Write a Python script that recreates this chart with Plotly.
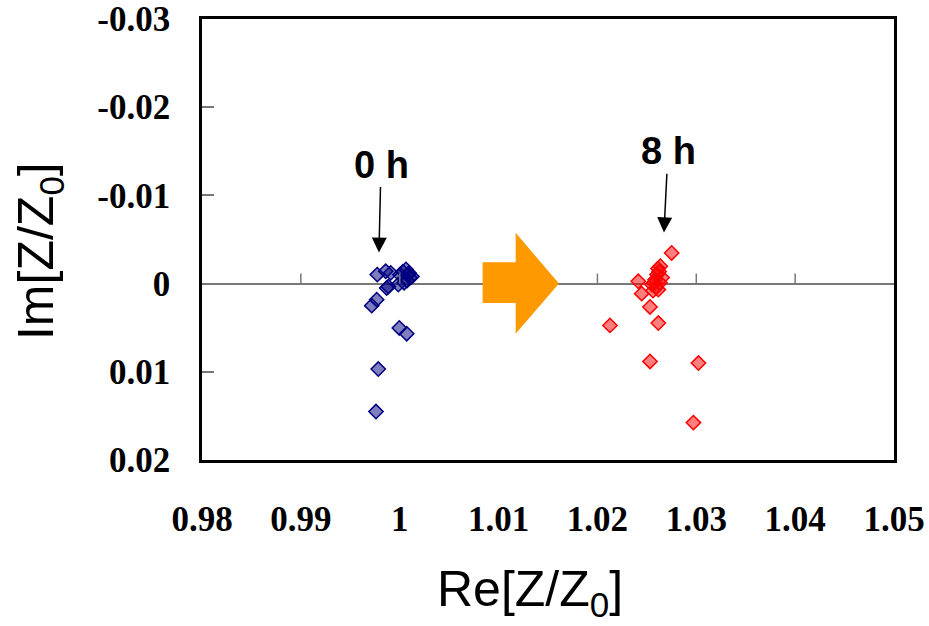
import plotly.graph_objects as go

# ---- data ----
blue_x = [0.99773, 0.99858, 0.99909, 0.99885, 0.99868, 0.99986, 0.99767, 0.99717,
          0.99996, 1.00071, 0.99783, 0.99760,
          1.00003, 1.00033, 1.00064, 1.00084, 1.00104, 1.00124, 1.00074, 1.00044, 1.00094]
blue_y = [-0.00102, -0.00140, -0.00122, 0.00034, 0.00049, 0.00011, 0.00182, 0.00250,
          0.00503, 0.00568, 0.00969, 0.01451,
          -0.00100, -0.00136, -0.00160, -0.00100, -0.00068, -0.00080, -0.00034, -0.00010, -0.00120]

red_x = [1.02751, 1.02636, 1.02413, 1.02448, 1.02616, 1.02532, 1.02127, 1.02616,
         1.02532, 1.03022, 1.02971,
         1.02552, 1.02583, 1.02603, 1.02623, 1.02593, 1.02562, 1.02633, 1.02654, 1.02613, 1.02573]
red_y = [-0.00347, -0.00197, -0.00026, 0.00114, 0.00068, 0.00265, 0.00474, 0.00447,
         0.00883, 0.00901, 0.01576,
         0.00011, -0.00045, -0.00102, -0.00136, 0.00045, 0.00080, -0.00011, -0.00068, -0.00170, -0.00010]

x_ticks = [0.98, 0.99, 1.00, 1.01, 1.02, 1.03, 1.04, 1.05]
x_labels = ["0.98", "0.99", "1", "1.01", "1.02", "1.03", "1.04", "1.05"]
y_ticks = [-0.03, -0.02, -0.01, 0.0, 0.01, 0.02]
y_labels = ["-0.03", "-0.02", "-0.01", "0", "0.01", "0.02"]

labels = ["0 h", "8 h"]
label_x = [0.99811, 1.02714]
label_y = [-0.0135, -0.0150]
arrow_tip_x = [0.99790, 1.02673]
arrow_tip_y = [-0.00352, -0.00580]

# big orange arrow outline (data coords)
big_arrow_x = [1.00839, 1.01173, 1.01173, 1.01611, 1.01173, 1.01173, 1.00839]
big_arrow_y = [-0.00242, -0.00242, -0.00576, 0.0, 0.00568, 0.00219, 0.00219]

fig = go.Figure()
fig.add_trace(go.Scatter(
    x=blue_x, y=blue_y, mode="markers",
    marker=dict(symbol="diamond", size=11, color="rgba(0,0,128,0.5)",
                line=dict(color="#000080", width=1.5)),
    showlegend=False))
fig.add_trace(go.Scatter(
    x=red_x, y=red_y, mode="markers",
    marker=dict(symbol="diamond", size=11, color="rgba(255,0,0,0.5)",
                line=dict(color="#ff0000", width=1.5)),
    showlegend=False))

shapes = []
# x ticks on the zero line
for xv in x_ticks[1:-1]:
    shapes.append(dict(type="line", xref="x", yref="y", ysizemode="pixel", yanchor=0,
                       x0=xv, x1=xv, y0=0, y1=10,
                       line=dict(color="#777777", width=1.5)))
# orange block arrow
path = "M " + " L ".join(f"{a},{b}" for a, b in zip(big_arrow_x, big_arrow_y)) + " Z"
shapes.append(dict(type="path", xref="x", yref="y", path=path,
                   fillcolor="#FF9900", line=dict(width=0), layer="above"))

annotations = []
for t, lx, ly, hx, hy in zip(labels, label_x, label_y, arrow_tip_x, arrow_tip_y):
    annotations.append(dict(x=hx, y=hy, ax=lx, ay=ly, xref="x", yref="y",
                            axref="x", ayref="y", text=t, showarrow=True,
                            arrowhead=2, arrowsize=2, arrowwidth=1.5,
                            arrowcolor="black",
                            font=dict(family="Liberation Sans", size=38, color="black",
                                      weight="bold")))

annotations.append(dict(xref="paper", yref="paper", x=0.474, y=-0.30,
                        text="Re[Z/Z<sub>0</sub>]", showarrow=False,
                        xanchor="center", yanchor="middle",
                        font=dict(family="Liberation Sans", size=50, color="black")))
annotations.append(dict(xref="paper", yref="paper", x=-0.234, y=0.474,
                        text="Im[Z/Z<sub>0</sub>]", showarrow=False, textangle=-90,
                        xanchor="center", yanchor="middle",
                        font=dict(family="Liberation Sans", size=50, color="black")))

tick_font = dict(family="Liberation Serif", size=35, color="black", weight="bold")

fig.update_layout(
    width=929, height=626,
    margin=dict(l=202, r=35, t=19, b=166),
    paper_bgcolor="white", plot_bgcolor="white",
    shapes=shapes, annotations=annotations,
    xaxis=dict(range=[0.98, 1.05], tickvals=x_ticks, ticktext=x_labels,
               showgrid=False, zeroline=False, ticks="", automargin=False,
               showline=True, mirror=True, linecolor="black", linewidth=2.5,
               ticklabelstandoff=26, tickfont=tick_font),
    yaxis=dict(range=[0.02, -0.03], tickvals=y_ticks, ticktext=y_labels,
               showgrid=False, zeroline=True, zerolinecolor="#777777", zerolinewidth=1.5,
               ticks="inside", ticklen=12, tickcolor="#777777", tickwidth=1.5,
               automargin=False,
               showline=True, mirror=True, linecolor="black", linewidth=2.5,
               ticklabelstandoff=22, tickfont=tick_font),
)

fig.write_html("out.html")
